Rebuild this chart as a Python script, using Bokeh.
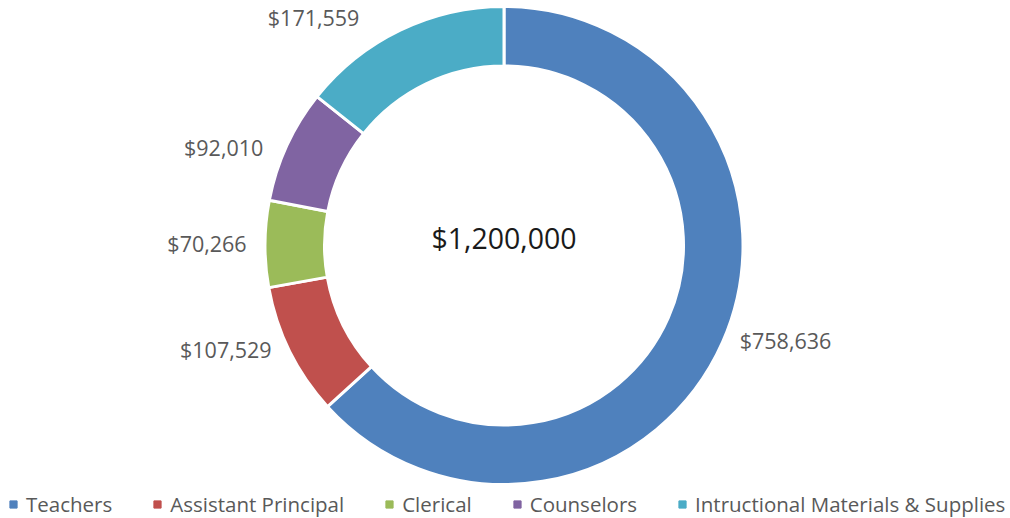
import math
from bokeh.plotting import figure
from bokeh.models import Range1d, Legend, LegendItem, ColumnDataSource
from bokeh.core.properties import value
from bokeh.embed import file_html
from bokeh.resources import INLINE

# ---- data ----
categories = ["Teachers", "Assistant Principal", "Clerical", "Counselors",
              "Intructional Materials & Supplies"]
amounts = [758636, 107529, 70266, 92010, 171559]
colors = ["#4F81BD", "#C0504D", "#9BBB59", "#8064A2", "#4BACC6"]

# ---- layout ----
W, H = 1010, 518
CX, CY = 503.5, 273.0          # donut centre in figure pixels (y from bottom)
R_OUT, R_IN = 239.0, 179.5
LAB_R = 297.0                  # radius of label centres
LAB_K = 0.78                   # labels are pulled toward the horizontal
FONT = "Open Sans"

total = sum(amounts)
starts, ends, lx, ly = [], [], [], []
cum = 0.0
for v in amounts:
    c0 = cum / total
    cum += v
    c1 = cum / total
    starts.append(math.pi / 2 - 2 * math.pi * c1)
    ends.append(math.pi / 2 - 2 * math.pi * c0)
    m = math.pi / 2 - 2 * math.pi * (c0 + c1) / 2
    side = 1 if math.cos(m) >= 0 else -1
    elev = math.asin(max(-1.0, min(1.0, math.sin(m)))) * LAB_K
    lx.append(CX + side * LAB_R * math.cos(elev))
    ly.append(CY + LAB_R * math.sin(elev))

src = ColumnDataSource(dict(
    cat=categories, val=amounts, color=colors,
    start=starts, end=ends,
    x=[CX] * len(amounts), y=[CY] * len(amounts),
    lx=lx, ly=ly,
    label=[f"${v:,}" for v in amounts],
    nx=[float("nan")] * len(amounts), ny=[float("nan")] * len(amounts),
))

p = figure(width=W, height=H, output_backend="svg", toolbar_location=None,
           x_range=Range1d(0, W), y_range=Range1d(0, H), min_border=0)
p.axis.visible = False
p.grid.visible = False
p.outline_line_color = None
p.background_fill_color = "white"
p.border_fill_color = "white"

p.annular_wedge(x="x", y="y", inner_radius=R_IN, outer_radius=R_OUT,
                start_angle="start", end_angle="end", fill_color="color",
                line_color="white", line_width=3, source=src)

p.text(x="lx", y="ly", text="label", source=src, text_align="center",
       text_baseline="middle", text_font=value(FONT), text_font_size="21.5px",
       text_color="#595959")

p.text(x=[CX], y=[CY], text=[f"${total:,}"], text_align="center",
       text_baseline="middle", text_font=value(FONT), text_font_size="28.5px",
       text_color="#1a1a1a", y_offset=-8)

marker = p.scatter(x="nx", y="ny", marker="square", fill_color="color",
                   line_color="color", source=src)

items = [LegendItem(label=c, renderers=[marker], index=i)
         for i, c in enumerate(categories)]
legend = Legend(items=items, orientation="horizontal", location=(4, 0),
                glyph_width=18, glyph_height=18, label_standoff=4, spacing=36,
                label_text_font=FONT, label_text_font_size="20.5px",
                label_text_color="#595959", label_height=18,
                border_line_color=None, background_fill_alpha=0,
                padding=0, margin=0)
p.add_layout(legend)

open("out.html", "w").write(file_html(p, INLINE))
